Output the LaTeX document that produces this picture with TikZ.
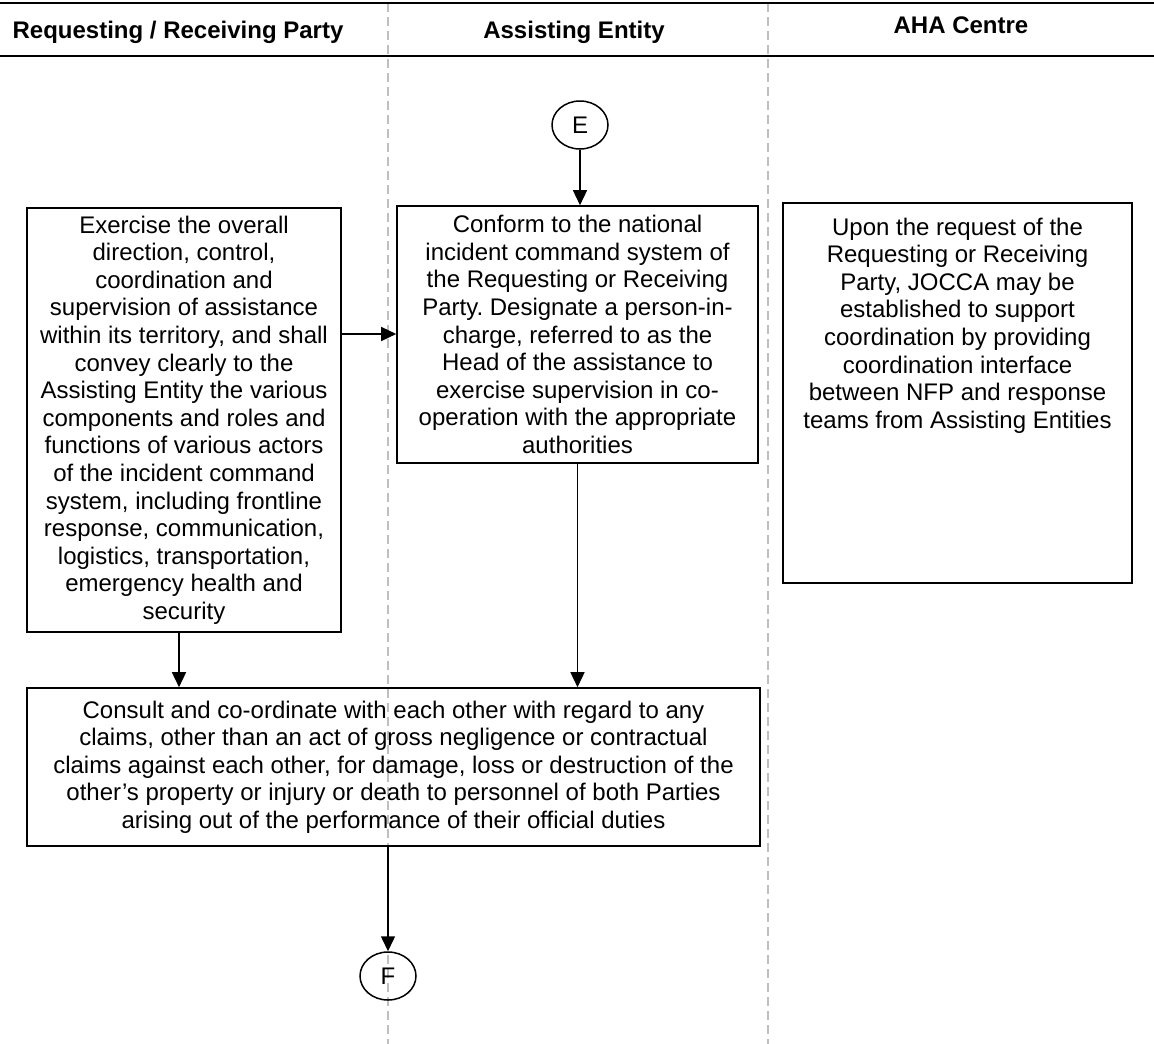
\documentclass[tikz,border=0pt]{standalone}
\usepackage{fontspec}
\setmainfont{Liberation Sans}
\usetikzlibrary{arrows.meta,shapes.geometric}
\frenchspacing
\begin{document}
\begin{tikzpicture}[x=1pt,y=-1pt,
  lane/.style={draw=black!25, line width=1.3pt, dash pattern=on 9pt off 5pt},
  rule/.style={line width=2pt},
  head/.style={font=\fontsize{24}{28}\selectfont\bfseries, anchor=base, inner sep=0pt},
  box/.style={draw, line width=1.6pt, align=center, inner sep=0pt,
    font=\fontsize{24}{27.6}\selectfont},
  conn/.style={line width=1.5pt, -{Triangle[length=15pt,width=14pt]}},
  joint/.style={draw, ellipse, line width=1.5pt, minimum width=56pt,
    minimum height=48pt, inner sep=0pt, font=\fontsize{24}{28}\selectfont}
]
\useasboundingbox (0,0) rectangle (1154,1044);

% swimlane frame
\draw[lane] (388,3) -- (388,1044);
\draw[lane] (768,3) -- (768,1044);
\draw[rule] (0,3) -- (1154,3);
\draw[rule] (0,56) -- (1154,56);

% lane titles
\node[head] (h1) at (178,38) {Requesting / Receiving Party};
\node[head] (h2) at (574,38) {Assisting Entity};
\node[head] (h3) at (961,34) {AHA Centre};

% connector E
\node[joint] (E) at (580,125) {E};

% process boxes
\node[box, minimum width=314pt, minimum height=424pt] (ctl) at (184,420)
  {Exercise the overall\\
   direction, control,\\
   coordination and\\
   supervision of assistance\\
   within its territory, and shall\\
   convey clearly to the\\
   Assisting Entity the various\\
   components and roles and\\
   functions of various actors\\
   of the incident command\\
   system, including frontline\\
   response, communication,\\
   logistics, transportation,\\
   emergency health and\\
   security};

\node[box, minimum width=361pt, minimum height=257pt] (mid) at (577.5,334.5)
  {Conform to the national\\
   incident command system of\\
   the Requesting or Receiving\\
   Party. Designate a person-in-\\
   charge, referred to as the\\
   Head of the assistance to\\
   exercise supervision in co-\\
   operation with the appropriate\\
   authorities};

\node[box, line width=2.4pt, minimum width=349pt, minimum height=380pt] (aha) at (957.5,393) {};
\node[align=center, inner sep=0pt, anchor=north, font=\fontsize{24}{27.6}\selectfont]
  (ahatext) at (957.5,217.5)
  {Upon the request of the\\
   Requesting or Receiving\\
   Party, JOCCA may be\\
   established to support\\
   coordination by providing\\
   coordination interface\\
   between NFP and response\\
   teams from Assisting Entities};

\node[box, minimum width=733pt, minimum height=158pt] (claims) at (393.5,767)
  {Consult and co-ordinate with each other with regard to any\\
   claims, other than an act of gross negligence or contractual\\
   claims against each other, for damage, loss or destruction of the\\
   other’s property or injury or death to personnel of both Parties\\
   arising out of the performance of their official duties};

% connector F
\node[joint] (F) at (388,976) {F};

% flow
\coordinate (arrowrow) at (0,334);
\draw[conn] (E.south) -- (E.south |- mid.north);
\draw[conn] (ctl.east |- arrowrow) -- (mid.west |- arrowrow);
\draw[conn] ([xshift=-5pt]ctl.south) -- ([xshift=-5pt]ctl.south |- claims.north);
\draw[conn] (mid.south) -- (mid.south |- claims.north);
\draw[conn] (claims.south -| F.north) -- (F.north);
\end{tikzpicture}
\end{document}
